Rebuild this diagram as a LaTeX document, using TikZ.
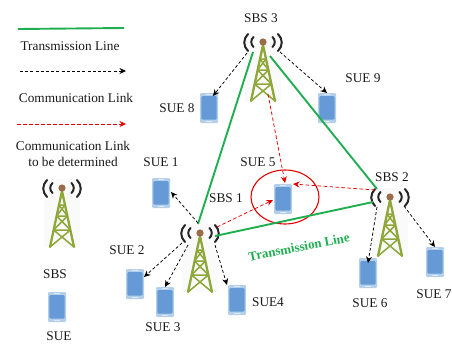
\documentclass[tikz,border=0pt]{standalone}
\usepackage{fontspec}
\setmainfont{Liberation Serif}
\usetikzlibrary{arrows.meta,shapes.geometric}
\definecolor{trgreen}{HTML}{1FAF50}
\definecolor{twgreen}{HTML}{8DA738}
\definecolor{twhead}{HTML}{9A6C4C}
\definecolor{phedge}{HTML}{B4CFEA}
\definecolor{phbody}{HTML}{659AD6}
\tikzset{
  x=1pt,y=-1pt,
  lbl/.style={font=\fontsize{13.3}{15}\selectfont,inner sep=0pt,text=black!90},
  trline/.style={draw=trgreen,line width=1.9pt},
  comm/.style={draw=black,line width=0.75pt,dash pattern=on 3pt off 2.2pt,-{Stealth[length=6.5pt,width=6pt]}},
  commred/.style={draw=red!90!black,line width=0.75pt,dash pattern=on 3.6pt off 2.4pt,-{Stealth[length=6.5pt,width=6pt]}},
  anchorpt/.style={inner sep=0pt,minimum size=0pt},
  phone/.style={minimum width=18pt,minimum height=30pt,inner sep=0pt,fill=phedge,rounded corners=1.2pt,
    path picture={
      \fill[phbody] ([shift={(1.3pt,-3.2pt)}]path picture bounding box.north west) rectangle ([shift={(-1.3pt,3.4pt)}]path picture bounding box.south east);
      \fill[white!80!phbody] ([shift={(-3pt,-1.2pt)}]path picture bounding box.north) rectangle ([shift={(3pt,-1.9pt)}]path picture bounding box.north);
      \fill[white!80!phbody] ([shift={(-3pt,1.2pt)}]path picture bounding box.south) rectangle ([shift={(3pt,1.9pt)}]path picture bounding box.south);
    }},
  towerart/.pic={
    \fill[black!2] (-18,-9) rectangle (18,59);
    \draw[twgreen,line width=2.3pt,line cap=round] (0,3) -- (-12,59) (0,3) -- (12,59);
    \draw[twgreen,line width=1.5pt] (-3,17) -- (3,17) (-5.4,28) -- (5.4,28) (-8.4,42) -- (8.4,42)
      (-3,17) -- (5.4,28) (3,17) -- (-5.4,28)
      (-5.4,28) -- (8.4,42) (5.4,28) -- (-8.4,42)
      (-8.4,42) -- (12,59) (8.4,42) -- (-12,59);
    \fill[twhead] (0,0) circle (3.6);
    \draw[black!85,line width=2pt,line cap=round]
      (-15,-8) .. controls (-20,-3) and (-20,4) .. (-15,9)
      (-9.5,-5) .. controls (-12.5,-2) and (-12.5,2) .. (-9.5,5)
      (15,-8) .. controls (20,-3) and (20,4) .. (15,9)
      (9.5,-5) .. controls (12.5,-2) and (12.5,2) .. (9.5,5);
  }
}
\begin{document}
\begin{tikzpicture}
\useasboundingbox (0,0) rectangle (452,343);
% towers
\node[anchorpt] (sbs1) at (200,233) {};
\node[anchorpt] (sbs2) at (390,197) {};
\node[anchorpt] (sbs3) at (263,42) {};
\node[anchorpt] (legsbs) at (62,188) {};
\pic at (sbs1) {towerart};
\pic at (sbs2) {towerart};
\pic at (sbs3) {towerart};
\pic at (legsbs) {towerart};
% phones
\node[phone] (sue1) at (161,193) {};
\node[phone] (sue2) at (135,284) {};
\node[phone] (sue3) at (165,302) {};
\node[phone] (sue4) at (237,300) {};
\node[phone] (sue5) at (283,199) {};
\node[phone] (sue6) at (368,273) {};
\node[phone] (sue7) at (435,262) {};
\node[phone] (sue8) at (209,108) {};
\node[phone] (sue9) at (327,108) {};
\node[phone] (legsue) at (57,307) {};
% red ellipse
\node[draw=red!90!black,line width=1.1pt,ellipse,minimum width=68pt,minimum height=54pt,inner sep=0pt] (circ) at (285,197) {};
% transmission lines
\draw[trline] ([shift={(-2,-9)}]sbs1.center) -- ([shift={(-10,10)}]sbs3.center);
\draw[trline] ([shift={(7,14)}]sbs3.center) -- ([shift={(-13,-8)}]sbs2.center);
\draw[trline] ([shift={(15,3)}]sbs1.center) -- ([shift={(-17,5)}]sbs2.center);
% communication links
\draw[comm] ([shift={(-2,-10)}]sbs1.center) -- ([shift={(10,-1)}]sue1.center);
\draw[comm] ([shift={(-18,10)}]sbs1.center) -- ([shift={(9,-7)}]sue2.center);
\draw[comm] ([shift={(-12,12)}]sbs1.center) -- ([shift={(0,-15)}]sue3.center);
\draw[comm] ([shift={(15,12)}]sbs1.center) -- ([shift={(-10,-15)}]sue4.center);
\draw[comm] ([shift={(-16,11)}]sbs3.center) -- ([shift={(4,-12)}]sue8.center);
\draw[comm] ([shift={(17,10)}]sbs3.center) -- ([shift={(0,-15)}]sue9.center);
\draw[comm] ([shift={(-13,10)}]sbs2.center) -- ([shift={(0,-10)}]sue6.center);
\draw[comm] ([shift={(14,9)}]sbs2.center) -- ([shift={(0,-15)}]sue7.center);
% to be determined
\draw[commred] ([shift={(17,-6)}]sbs1.center) -- ([shift={(-10,1)}]sue5.center);
\draw[commred] ([shift={(5,52)}]sbs3.center) -- ([shift={(2,-16)}]sue5.center);
\draw[commred] ([shift={(-15,-7)}]sbs2.center) -- ([shift={(10,-15)}]sue5.center);
% legend
\coordinate (lg1a) at (18,29); \coordinate (lg1b) at (124,28);
\coordinate (lg2a) at (20,71); \coordinate (lg2b) at (126,71);
\coordinate (lg3a) at (17,124); \coordinate (lg3b) at (126,124);
\draw[trline] (lg1a) -- (lg1b);
\draw[comm] (lg2a) -- (lg2b);
\draw[commred] (lg3a) -- (lg3b);
\node[lbl] (t1) at (70,46) {Transmission Line};
\node[lbl] (t2) at (76,98) {Communication Link};
\node[lbl] (t3) at (73,146) {Communication Link};
\node[lbl] (t4) at (73,162) {to be determined};
\node[lbl] (t5) at (55,274) {SBS};
\node[lbl] (t6) at (59,336.5) {SUE};
% labels
\node[lbl] (l1) at (161,162) {SUE 1};
\node[lbl] (l2) at (127,250) {SUE 2};
\node[lbl] (l3) at (163,327) {SUE 3};
\node[lbl] (l4) at (268,302) {SUE4};
\node[lbl] (l5) at (258,162) {SUE 5};
\node[lbl] (l6) at (370,303) {SUE 6};
\node[lbl] (l7) at (434,294) {SUE 7};
\node[lbl] (l8) at (177,108) {SUE 8};
\node[lbl] (l9) at (363,78) {SUE 9};
\node[lbl] (b1) at (226,198) {SBS 1};
\node[lbl] (b2) at (392,177) {SBS 2};
\node[lbl] (b3) at (261,18) {SBS 3};
\node[font=\bfseries\fontsize{13}{15}\selectfont,text=trgreen,inner sep=0pt,rotate=11] (tl) at (299,247) {Transmission Line};
\end{tikzpicture}
\end{document}
